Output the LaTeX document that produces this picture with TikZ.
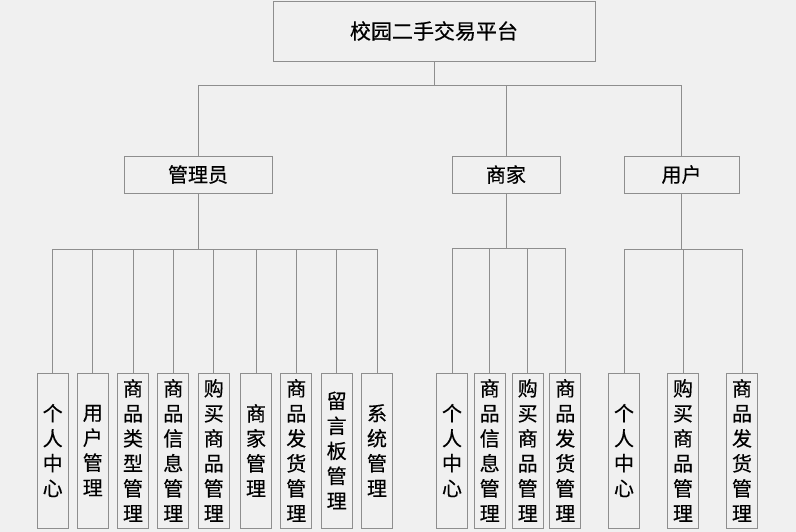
\documentclass[tikz,border=0pt]{standalone}
\usepackage{fontspec}
\newfontfamily\cjk[FakeBold=0.4]{Noto Sans CJK SC}
\definecolor{bgc}{HTML}{F0F0F0}
\definecolor{linec}{HTML}{8E8E8E}
\begin{document}
\begin{tikzpicture}[x=1pt,y=-1pt,
  box/.style={draw=linec,line width=0.9pt,fill=bgc,inner sep=0pt,font=\cjk\fontsize{20}{25}\selectfont,text=black},
  leaf/.style={box,minimum width=31pt,minimum height=155pt,align=center},
  conn/.style={draw=linec,line width=0.9pt}]
\fill[bgc] (0,0) rectangle (796,532);
\useasboundingbox (0,0) rectangle (796,532);
% top
\node[box,minimum width=322pt,minimum height=60pt,font=\cjk\fontsize{21}{25}\selectfont] (top) at (434,31) {校园二手交易平台};
% level 2
\node[box,minimum width=148pt,minimum height=37pt] (admin) at (198,174.5) {管理员};
\node[box,minimum width=108pt,minimum height=37pt] (shop) at (506,174.5) {商家};
\node[box,minimum width=115pt,minimum height=37pt] (user) at (681.5,174.5) {用户};
% admin leaves
\node[leaf] (a1) at (52.7,450.5) {个\\人\\中\\心};
\node[leaf] (a2) at (92.8,450.5) {用\\户\\管\\理};
\node[leaf] (a3) at (133,450.5) {商\\品\\类\\型\\管\\理};
\node[leaf] (a4) at (173.3,450.5) {商\\品\\信\\息\\管\\理};
\node[leaf] (a5) at (213.8,450.5) {购\\买\\商\\品\\管\\理};
\node[leaf] (a6) at (256,450.5) {商\\家\\管\\理};
\node[leaf] (a7) at (296.3,450.5) {商\\品\\发\\货\\管\\理};
\node[leaf] (a8) at (336.7,450.5) {留\\言\\板\\管\\理};
\node[leaf] (a9) at (377,450.5) {系\\统\\管\\理};
% shop leaves
\node[leaf] (s1) at (452,450.5) {个\\人\\中\\心};
\node[leaf] (s2) at (489.7,450.5) {商\\品\\信\\息\\管\\理};
\node[leaf] (s3) at (527.7,450.5) {购\\买\\商\\品\\管\\理};
\node[leaf] (s4) at (565.3,450.5) {商\\品\\发\\货\\管\\理};
% user leaves
\node[leaf] (u1) at (624,450.5) {个\\人\\中\\心};
\node[leaf] (u2) at (683,450.5) {购\\买\\商\\品\\管\\理};
\node[leaf] (u3) at (742,450.5) {商\\品\\发\\货\\管\\理};
% bus coordinates
\coordinate (b0) at (434,85);
\coordinate (b1) at (198,249);
\coordinate (b2) at (506,248);
\coordinate (b3) at (681.5,249);
% connectors
\draw[conn] (top.south) -- (b0);
\draw[conn] (b0) -| (admin.north);
\draw[conn] (b0) -| (shop.north);
\draw[conn] (b0) -| (user.north);
\draw[conn] (admin.south) -- (b1);
\foreach \n in {a1,a2,a3,a4,a5,a6,a7,a8,a9} {\draw[conn] (b1) -| (\n.north);}
\draw[conn] (shop.south) -- (b2);
\foreach \n in {s1,s2,s3,s4} {\draw[conn] (b2) -| (\n.north);}
\draw[conn] (user.south) -- (b3);
\foreach \n in {u1,u2,u3} {\draw[conn] (b3) -| (\n.north);}
\end{tikzpicture}
\end{document}
